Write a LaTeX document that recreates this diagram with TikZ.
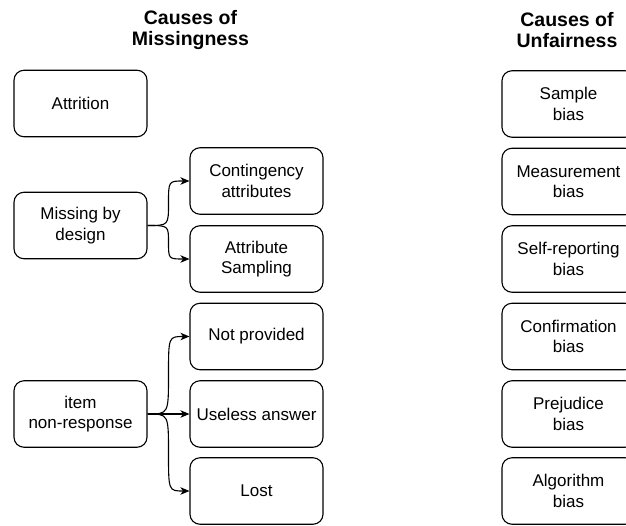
\documentclass[tikz,border=0pt]{standalone}
\usepackage{fontspec}
\setmainfont{Liberation Sans}
\usetikzlibrary{arrows.meta,calc}
\tikzset{
  box/.style={draw, line width=1.1pt, rounded corners=10pt, minimum width=133pt, minimum height=66.5pt, align=center, inner sep=0pt, font=\fontsize{17}{20.5}\selectfont},
  title/.style={align=center, font=\fontsize{19.5}{21.7}\selectfont\bfseries},
  arr/.style={line width=1.1pt, -{Stealth[length=9pt,width=7.5pt,inset=2.5pt]}},
  curvy/.style={to path={let \p1=(\tikztostart), \p2=(\tikztotarget), \n1={(\x1+\x2)/2}, \n2={(\y1+\y2)/2} in .. controls (\n1,\y1) .. (\n1,\n2) .. controls (\n1,\y2) .. (\tikztotarget) \tikztonodes}}
}
\begin{document}
\begin{tikzpicture}[x=1pt,y=-1pt]
\useasboundingbox (0,0) rectangle (626,525);
\clip (0,0) rectangle (626,525);
\node[title] (t1) at (190.5,30) {Causes of\\Missingness};
\node[title] (t2) at (567,30) {Causes of\\Unfairness};
\node[box] (attr) at (80.5,103.5) {Attrition};
\node[box] (mbd) at (80.5,225.5) {Missing by\\design};
\node[box] (inr) at (80.5,414) {item\\non-response};
\node[box] (cont) at (256.5,181) {Contingency\\attributes};
\node[box] (asamp) at (256.5,259) {Attribute\\Sampling};
\node[box] (np) at (256.5,336.5) {Not provided};
\node[box] (ua) at (256.5,414) {Useless answer};
\node[box] (lost) at (256.5,491) {Lost};
\node[box] (sb) at (568.5,104) {Sample\\bias};
\node[box] (mb) at (568.5,181.5) {Measurement\\bias};
\node[box] (srb) at (568.5,259) {Self-reporting\\bias};
\node[box] (cb) at (568.5,336.5) {Confirmation\\bias};
\node[box] (pb) at (568.5,414) {Prejudice\\bias};
\node[box] (ab) at (568.5,491) {Algorithm\\bias};
\draw[arr] (mbd.east) to[curvy] (cont.west);
\draw[arr] (mbd.east) to[curvy] (asamp.west);
\draw[arr] (inr.east) to[curvy] (np.west);
\draw[arr] (inr.east) -- (ua.west);
\draw[arr] (inr.east) to[curvy] (lost.west);
\end{tikzpicture}
\end{document}
